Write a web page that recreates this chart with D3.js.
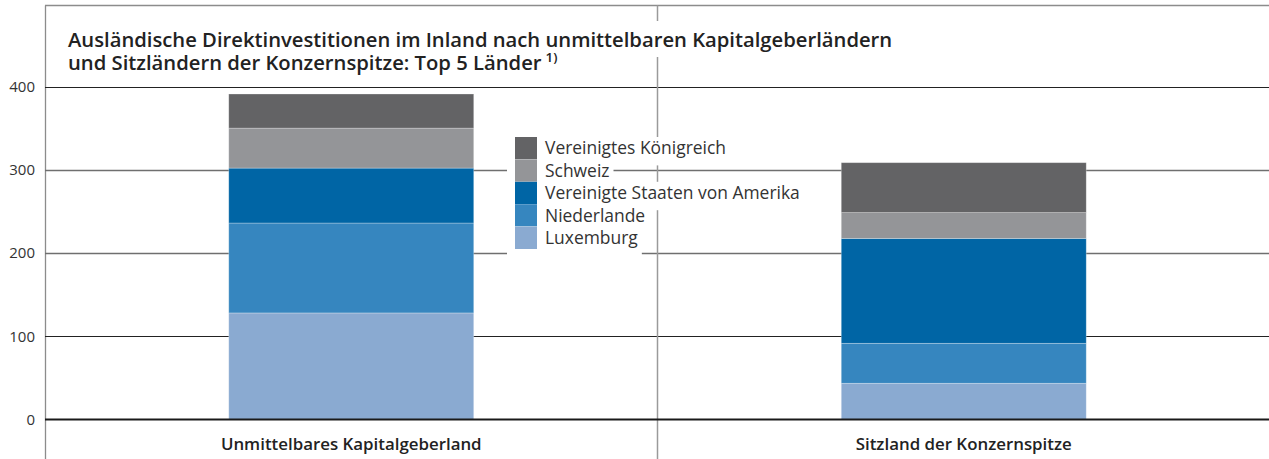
<!DOCTYPE html>
<html>
<head>
<meta charset="utf-8">
<script src="https://cdn.jsdelivr.net/npm/d3@7"></script>
<style>
  body { margin: 0; background: #fff; }
  text { font-family: "Open Sans", "Noto Sans", sans-serif; }
</style>
</head>
<body>
<div id="chart"></div>
<script>
// Data (Mrd Euro)
const categories = ["Unmittelbares Kapitalgeberland", "Sitzland der Konzernspitze"]
const countries = ["Luxemburg", "Niederlande", "Vereinigte Staaten von Amerika", "Schweiz", "Vereinigtes Königreich"]
const luxemburg = [128, 43.5]
const niederlande = [108, 48]
const usa = [66, 126]
const schweiz = [48, 31]
const uk = [41, 60]
const yTicks = [0, 100, 200, 300, 400]
const colours = ["#8aaad1", "#3686bf", "#0065a5", "#949598", "#636365"]

const WIDTH = 1269
const HEIGHT = 459
const FRAME = {LEFT: 45, TOP: 5.5}

// scale a text's font size so that it spans the wanted width
function fitWidth(sel, target) {
    const fs = +sel.attr("font-size")
    const len = sel.node().getComputedTextLength()
    sel.attr("font-size", fs * target / len)
}

// build rows for d3.stack
const seriesValues = [luxemburg, niederlande, usa, schweiz, uk]
const rows = categories.map((c, i) => {
    const r = {cat: c}
    countries.forEach((k, j) => r[k] = seriesValues[j][i])
    return r
})
const stacked = d3.stack().keys(countries)(rows)

const svg = d3.select("#chart").append("svg")
    .attr("width", WIDTH)
    .attr("height", HEIGHT)

const x = d3.scaleBand().domain(categories).range([FRAME.LEFT, WIDTH + 1]).padding(0)
const y = d3.scaleLinear().domain([0, 400]).range([419.5, 86.5])
const colour = d3.scaleOrdinal().domain(countries).range(colours)
const barW = x.bandwidth() * 0.4

// frame
svg.append("line").attr("x1", FRAME.LEFT).attr("x2", WIDTH).attr("y1", FRAME.TOP).attr("y2", FRAME.TOP)
    .attr("stroke", "#8c8c8c").attr("stroke-width", 1.3)
svg.append("line").attr("x1", FRAME.LEFT + 0.5).attr("x2", FRAME.LEFT + 0.5).attr("y1", FRAME.TOP).attr("y2", HEIGHT)
    .attr("stroke", "#8c8c8c").attr("stroke-width", 1.3)

// gridlines (the middle ones print lighter in the original)
svg.append("g").selectAll("line")
    .data(yTicks.filter(d => d > 0))
    .join("line")
    .attr("x1", FRAME.LEFT).attr("x2", WIDTH)
    .attr("y1", d => Math.round(y(d)) + 0.5).attr("y2", d => Math.round(y(d)) + 0.5)
    .attr("stroke", d => (d === 200 || d === 300) ? "#6f6f6f" : "#222")
    .attr("stroke-width", d => (d === 200 || d === 300) ? 1.4 : 1)

// divider between the two panels
const divX = x(categories[1])
svg.append("line").attr("x1", divX).attr("x2", divX).attr("y1", FRAME.TOP).attr("y2", HEIGHT)
    .attr("stroke", "#9a9a9a").attr("stroke-width", 1.5)

// y tick labels
svg.append("g").selectAll("text")
    .data(yTicks)
    .join("text")
    .attr("x", 35).attr("y", d => y(d)).attr("dy", "0.35em")
    .attr("text-anchor", "end")
    .attr("font-size", 15).attr("fill", "#333")
    .text(d => d)

// stacked bars
svg.append("g").selectAll("g")
    .data(stacked)
    .join("g")
    .attr("fill", d => colour(d.key))
    .selectAll("rect")
    .data(d => d)
    .join("rect")
    .attr("x", d => x(d.data.cat) + (x.bandwidth() - barW) / 2)
    .attr("width", barW)
    .attr("y", d => y(d[1]))
    .attr("height", d => y(d[0]) - y(d[1]))
    .attr("stroke", "rgba(255,255,255,0.35)").attr("stroke-width", 0.8)

// zero line
svg.append("line").attr("x1", FRAME.LEFT).attr("x2", WIDTH).attr("y1", y(0)).attr("y2", y(0))
    .attr("stroke", "#1a1a1a").attr("stroke-width", 2)

// category labels
const catLabels = svg.append("g").selectAll("text")
    .data(categories)
    .join("text")
    .attr("x", d => x(d) + x.bandwidth() / 2).attr("y", 450)
    .attr("text-anchor", "middle")
    .attr("font-size", 15).attr("font-weight", 600).attr("fill", "#222")
    .text(d => d)
const catFs = 15 * 261 / catLabels.nodes()[0].getComputedTextLength()
catLabels.attr("font-size", catFs)

// legend, top item first
const LEG = {X: 515, Y: 137, ROW: 22.4, SW: 22}
const legendItems = countries.slice().reverse()
const leg = svg.append("g")
const items = leg.selectAll("g").data(legendItems).join("g")
    .attr("transform", (d, i) => `translate(${LEG.X},${LEG.Y + i * LEG.ROW})`)
items.append("rect").attr("class", "bg").attr("x", -8).attr("y", 0).attr("height", LEG.ROW + 6).attr("fill", "#fff")
items.append("rect").attr("width", LEG.SW).attr("height", LEG.ROW).attr("fill", d => colour(d))
const legTexts = items.append("text").attr("x", LEG.SW + 8).attr("y", LEG.ROW / 2).attr("dy", "0.35em")
    .attr("font-size", 16).attr("fill", "#333")
    .text(d => d)
const legFs = 16 * 255 / legTexts.nodes()[2].getComputedTextLength()
legTexts.attr("font-size", legFs)
items.each(function() {
    const t = d3.select(this).select("text").node().getComputedTextLength()
    d3.select(this).select("rect.bg").attr("width", 8 + LEG.SW + 8 + t + 4)
})

// title with white background
const title = svg.append("g")
const titleBg = title.append("rect").attr("fill", "#fff")
const t1 = title.append("text").attr("x", 68).attr("y", 47)
    .attr("font-size", 18).attr("font-weight", 600).attr("fill", "#222")
    .text("Ausländische Direktinvestitionen im Inland nach unmittelbaren Kapitalgeberländern")
fitWidth(t1, 825)
const titleFs = +t1.attr("font-size")
const t2 = title.append("text").attr("x", 68).attr("y", 70)
    .attr("font-size", titleFs).attr("font-weight", 600).attr("fill", "#222")
    .text("und Sitzländern der Konzernspitze: Top 5 Länder")
title.append("text").attr("x", 68 + t2.node().getComputedTextLength() + 4).attr("y", 62)
    .attr("font-size", titleFs * 0.66).attr("font-weight", 600).attr("fill", "#222")
    .text("1)")
const bb = title.node().getBBox()
titleBg.attr("x", bb.x - 4).attr("y", 21).attr("width", bb.width + 8).attr("height", 57 - 21)
</script>
</body>
</html>
